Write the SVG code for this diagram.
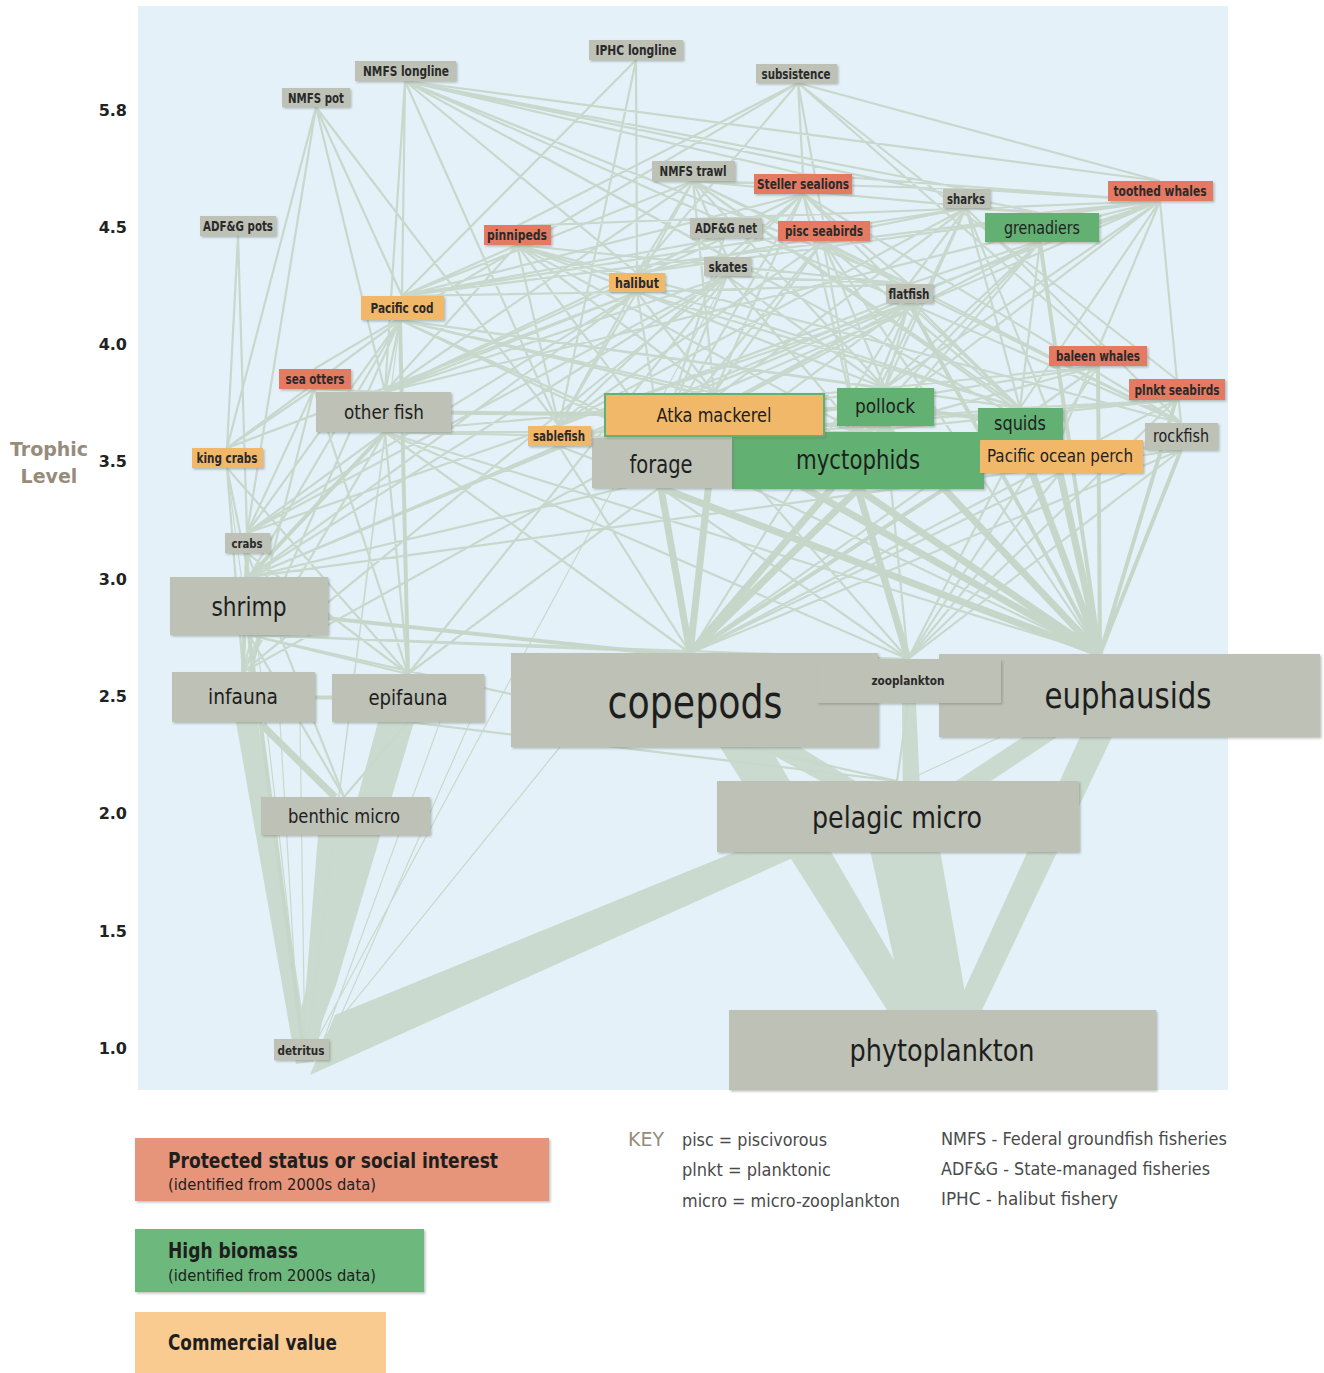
<svg xmlns="http://www.w3.org/2000/svg" width="1324" height="1373" viewBox="0 0 1324 1373">
<style>
.t{font-family:'DejaVu Sans Condensed','DejaVu Sans',sans-serif;font-stretch:condensed;fill:#1e1e1e;text-anchor:middle}
.s{font-weight:bold;fill:#2a2a2a}
.g{fill:#bdc1b6;filter:url(#sh)}
.r{fill:#e57a62;filter:url(#sh)}
.gr{fill:#62b173;filter:url(#sh)}
.o{fill:#f2b86a;filter:url(#sh)}
.e1{fill:none;stroke:#c9d9cd;stroke-width:1.2}
.e2{fill:none;stroke:#c8d8cc;stroke-width:2.2}
.e3{fill:none;stroke:#c6d7ca;stroke-width:4}
.e4{fill:none;stroke:#c6d7ca;stroke-width:7}
.w{fill:#cadacf}
.ax{font-family:'DejaVu Sans',sans-serif;font-weight:bold;font-size:16px;fill:#222;text-anchor:end}
.lg{font-family:'DejaVu Sans Condensed','DejaVu Sans',sans-serif;font-stretch:condensed;fill:#1e1e1e}
.key{font-family:'DejaVu Sans Condensed','DejaVu Sans',sans-serif;font-stretch:condensed;fill:#4a4a4a;font-size:18px}
</style>
<defs>
<filter id="sh" x="-5%" y="-10%" width="115%" height="130%"><feDropShadow dx="1.5" dy="1.5" stdDeviation="1" flood-color="#6d746c" flood-opacity="0.45"/></filter>
</defs>
<rect x="0" y="0" width="1324" height="1373" fill="#ffffff"/>
<rect x="138" y="6" width="1090" height="1084" fill="#e4f1f8"/>

<g id="axis">
<text class="ax" x="127" y="116">5.8</text>
<text class="ax" x="127" y="233">4.5</text>
<text class="ax" x="127" y="350">4.0</text>
<text class="ax" x="127" y="467">3.5</text>
<text class="ax" x="127" y="585">3.0</text>
<text class="ax" x="127" y="702">2.5</text>
<text class="ax" x="127" y="819">2.0</text>
<text class="ax" x="127" y="937">1.5</text>
<text class="ax" x="127" y="1054">1.0</text>
<text x="49" y="456" font-family="'DejaVu Sans',sans-serif" font-weight="bold" font-size="19" fill="#978c7c" text-anchor="middle">Trophic</text>
<text x="49" y="483" font-family="'DejaVu Sans',sans-serif" font-weight="bold" font-size="19" fill="#978c7c" text-anchor="middle">Level</text>
</g>

<g id="connectors">
<polygon class="w" points="310,1075 335,1015 745,848 815,848"/>
<polygon class="w" points="378,722 414,722 336,985 306,1064 298,1020"/>
<polygon class="w" points="318,835 360,835 314,1062 300,1062"/>
<polygon class="w" points="236,722 258,722 310,1062 296,1064"/>
<polygon class="w" points="720,747 770,747 923,1010 887,1010"/>
<polygon class="w" points="758,747 800,747 862,785 828,785"/>
<polygon class="w" points="870,850 940,850 968,1010 905,1010"/>
<polygon class="w" points="1080,737 1112,737 982,1010 955,1010"/>
<polygon class="w" points="902,703 916,703 930,1010 905,1010"/>
<polygon class="w" points="1023,737 1057,737 985,785 950,785"/>
<path class="e1" d="M227 468L305 1062 M247 553L305 1062 M385 432L305 1062 M560 747L305 1062 M1000 737L305 1062 M727 276L305 1062 M400 320L305 1062 M470 722L330 1040 M440 722L320 1050 M280 722L300 1060 M300 722L305 1062"/>
<path class="e2" d="M636 60L637 273 M636 60L559 426 M636 60L402 296
M405 81L402 296 M405 81L385 392 M405 81L559 426 M405 81L637 273 M405 81L727 257 M405 81L966 189 M405 81L1040 213 M405 81L1160 181 M405 81L803 174 M405 81L909 284 M405 81L1181 423 M405 81L1060 440
M316 107L402 296 M316 107L385 392 M316 107L227 448 M316 107L247 533 M316 107L559 426
M238 236L227 448 M238 236L247 533
M798 83L803 174 M798 83L517 226 M798 83L637 273 M798 83L1160 181 M798 83L1098 346 M798 83L314 369 M798 83L1176 379 M798 83L823 220
M693 181L885 388 M693 181L402 296 M693 181L714 393 M693 181L909 284 M693 181L1181 423 M693 181L1060 440 M693 181L385 392 M693 181L727 257 M693 181L1020 408 M693 181L559 426 M693 181L637 273 M693 181L1040 213 M693 181L966 189
M724 238L661 438 M724 238L385 392 M724 238L402 296
M803 194L885 388 M803 194L714 393 M803 194L402 296 M803 194L661 438 M803 194L1020 408 M803 194L385 392 M803 194L909 284 M803 194L1181 423 M803 194L637 273 M803 194L559 426 M803 194L858 432 M803 194L727 257
M1160 201L1020 408 M1160 201L559 426 M1160 201L1040 213 M1160 201L1181 423 M1160 201L1060 440 M1160 201L858 432 M1160 201L885 388 M1160 201L402 296 M1160 201L966 189 M1160 201L517 226 M1160 201L714 393 M1160 201L385 392 M1160 201L909 284 M1160 201L637 273 M1160 201L803 174
M966 208L1020 408 M966 208L885 388 M966 208L1040 213 M966 208L559 426 M966 208L858 432 M966 208L1181 423 M966 208L909 284 M966 208L637 273 M966 208L661 438 M966 208L402 296 M966 208L1060 440
M517 245L885 388 M517 245L661 438 M517 245L714 393 M517 245L1020 408 M517 245L402 296 M517 245L385 392 M517 245L909 284 M517 245L858 432 M517 245L559 426 M517 245L1181 423
M823 241L661 438 M823 241L858 432 M823 241L885 388 M823 241L714 393 M823 241L1020 408 M823 241L559 426 M823 241L1181 423 M823 241L1100 654
M1040 242L858 432 M1040 242L1020 408 M1040 242L249 577 M1040 242L690 653 M1040 242L885 388 M1040 242L661 438
M727 276L249 577 M727 276L247 533 M727 276L885 388 M727 276L385 392 M727 276L909 284 M727 276L408 674 M727 276L243 672 M727 276L661 438 M727 276L858 432
M637 292L885 388 M637 292L402 296 M637 292L909 284 M637 292L385 392 M637 292L227 448 M637 292L247 533 M637 292L249 577 M637 292L661 438 M637 292L714 393 M637 292L1020 408 M637 292L559 426
M909 303L243 672 M909 303L408 674 M909 303L249 577 M909 303L885 388 M909 303L661 438 M909 303L858 432 M909 303L690 653 M909 303L1020 408 M909 303L247 533
M400 320L885 388 M400 320L249 577 M400 320L247 533 M400 320L227 448 M400 320L385 392 M400 320L243 672 M400 320L661 438 M400 320L714 393 M400 320L1100 654 M400 320L1020 408 M400 320L858 432
M1098 366L690 653 M1098 366L661 438 M1098 366L858 432 M1098 366L885 388 M1098 366L908 659
M1176 400L690 653 M1176 400L858 432 M1176 400L1020 408 M1176 400L908 659 M1176 400L661 438
M314 389L408 674 M314 389L243 672 M314 389L247 533 M314 389L227 448 M314 389L385 392
M385 432L243 672 M385 432L408 674 M385 432L247 533 M385 432L1100 654 M385 432L690 653 M385 432L661 438 M385 432L858 432 M385 432L908 659 M385 432L885 388
M559 446L858 432 M559 446L1020 408 M559 446L885 388 M559 446L1100 654 M559 446L661 438 M559 446L249 577 M559 446L690 653
M714 437L858 432 M714 437L908 659 M714 437L661 438
M885 426L858 432 M885 426L661 438 M885 426L249 577 M885 426L908 659
M1020 440L858 432 M1020 440L908 659 M1020 440L661 438
M1181 450L690 653 M1181 450L858 432 M1181 450L249 577 M1181 450L908 659
M661 488L908 659
M1060 473L690 653 M1060 473L858 432 M1060 473L908 659
M227 468L243 672 M227 468L408 674 M227 468L249 577
M247 553L408 674 M247 553L344 797
M249 635L344 797 M249 635L690 653 M249 635L897 781 M249 635L908 659 M249 635L408 674
M408 722L344 797 M408 722L897 781
M908 703L897 781"/>
<path class="e3" d="M384 412L714 415 M885 406L1020 423 M714 415L885 406 M249 610L1100 700 M247 553L243 672 M260 635L250 672 M243 697L408 698 M1098 366L1100 654 M1176 400L1100 654 M1181 450L1100 654 M1040 242L1100 654 M400 320L408 674 M909 303L1100 654 M1020 440L690 653 M385 432L249 577 M249 635L305 1062"/>
<path class="e4" d="M714 437L690 653 M714 437L1100 654 M885 426L1100 654 M885 426L690 653 M1020 440L1100 654 M661 488L690 653 M661 488L1100 654 M858 489L690 653 M858 489L1100 654 M858 489L908 659 M1060 473L1100 654 M262 725L335 797"/>
</g>

<g id="n-iphc-longline"><rect class="g" x="589" y="40" width="94" height="20"/><text class="t s" x="636" y="55" font-size="14" textLength="81" lengthAdjust="spacingAndGlyphs">IPHC longline</text></g>
<g id="n-nmfs-longline"><rect class="g" x="355" y="61" width="101" height="20"/><text class="t s" x="406" y="76" font-size="14" textLength="86" lengthAdjust="spacingAndGlyphs">NMFS longline</text></g>
<g id="n-nmfs-pot"><rect class="g" x="282" y="88" width="68" height="19"/><text class="t s" x="316" y="102.5" font-size="14" textLength="56" lengthAdjust="spacingAndGlyphs">NMFS pot</text></g>
<g id="n-subsistence"><rect class="g" x="756" y="64" width="81" height="19"/><text class="t s" x="796" y="78.5" font-size="13.5" textLength="69" lengthAdjust="spacingAndGlyphs">subsistence</text></g>
<g id="n-nmfs-trawl"><rect class="g" x="652" y="161" width="83" height="20"/><text class="t s" x="693" y="176" font-size="14" textLength="67" lengthAdjust="spacingAndGlyphs">NMFS trawl</text></g>
<g id="n-steller-sealions"><rect class="r" x="754" y="174" width="98" height="20"/><text class="t s" x="803" y="189" font-size="14" textLength="92" lengthAdjust="spacingAndGlyphs">Steller sealions</text></g>
<g id="n-sharks"><rect class="g" x="943" y="189" width="47" height="19"/><text class="t s" x="966" y="203.5" font-size="14" textLength="38" lengthAdjust="spacingAndGlyphs">sharks</text></g>
<g id="n-toothed-whales"><rect class="r" x="1108" y="181" width="105" height="20"/><text class="t s" x="1160" y="196" font-size="14" textLength="93" lengthAdjust="spacingAndGlyphs">toothed whales</text></g>
<g id="n-adfg-pots"><rect class="g" x="200" y="216" width="76" height="20"/><text class="t s" x="238" y="231" font-size="14" textLength="70" lengthAdjust="spacingAndGlyphs">ADF&amp;G pots</text></g>
<g id="n-pinnipeds"><rect class="r" x="484" y="225" width="67" height="20"/><text class="t s" x="517" y="240" font-size="14" textLength="60" lengthAdjust="spacingAndGlyphs">pinnipeds</text></g>
<g id="n-adfg-net"><rect class="g" x="690" y="218" width="72" height="20"/><text class="t s" x="726" y="233" font-size="14" textLength="62" lengthAdjust="spacingAndGlyphs">ADF&amp;G net</text></g>
<g id="n-pisc-seabirds"><rect class="r" x="778" y="221" width="92" height="20"/><text class="t s" x="824" y="236" font-size="14" textLength="78" lengthAdjust="spacingAndGlyphs">pisc seabirds</text></g>
<g id="n-grenadiers"><rect class="gr" x="985" y="213" width="114" height="29"/><text class="t" x="1042" y="233.5" font-size="17" textLength="76" lengthAdjust="spacingAndGlyphs">grenadiers</text></g>
<g id="n-skates"><rect class="g" x="704" y="257" width="47" height="19"/><text class="t s" x="728" y="271.5" font-size="14" textLength="39" lengthAdjust="spacingAndGlyphs">skates</text></g>
<g id="n-halibut"><rect class="o" x="609" y="273" width="56" height="19"/><text class="t s" x="637" y="287.5" font-size="14" textLength="44" lengthAdjust="spacingAndGlyphs">halibut</text></g>
<g id="n-flatfish"><rect class="g" x="886" y="284" width="47" height="19"/><text class="t s" x="909" y="298.5" font-size="14" textLength="41" lengthAdjust="spacingAndGlyphs">flatfish</text></g>
<g id="n-pacific-cod"><rect class="o" x="361" y="296" width="83" height="24"/><text class="t s" x="402" y="313" font-size="14" textLength="63" lengthAdjust="spacingAndGlyphs">Pacific cod</text></g>
<g id="n-baleen-whales"><rect class="r" x="1049" y="346" width="98" height="20"/><text class="t s" x="1098" y="361" font-size="14" textLength="84" lengthAdjust="spacingAndGlyphs">baleen whales</text></g>
<g id="n-plnkt-seabirds"><rect class="r" x="1129" y="379" width="96" height="21"/><text class="t s" x="1177" y="394.5" font-size="14" textLength="85" lengthAdjust="spacingAndGlyphs">plnkt seabirds</text></g>
<g id="n-sea-otters"><rect class="r" x="279" y="369" width="72" height="20"/><text class="t s" x="315" y="384" font-size="14" textLength="59" lengthAdjust="spacingAndGlyphs">sea otters</text></g>
<g id="n-other-fish"><rect class="g" x="316" y="392" width="135" height="40"/><text class="t" x="384" y="419" font-size="20" textLength="80" lengthAdjust="spacingAndGlyphs">other fish</text></g>
<g id="n-myctophids"><rect class="gr" x="732" y="432" width="252" height="57"/><text class="t" x="858" y="469" font-size="26" textLength="124" lengthAdjust="spacingAndGlyphs">myctophids</text></g>
<g id="n-forage"><rect class="g" x="592" y="438" width="140" height="50"/><text class="t" x="661" y="473" font-size="24" textLength="63" lengthAdjust="spacingAndGlyphs">forage</text></g>
<g id="n-atka-mackerel"><rect class="o" x="605" y="394" width="219" height="42" stroke="#62b173" stroke-width="2"/><text class="t" x="714" y="422" font-size="19" textLength="115" lengthAdjust="spacingAndGlyphs">Atka mackerel</text></g>
<g id="n-sablefish"><rect class="o" x="528" y="426" width="63" height="20"/><text class="t s" x="559" y="441" font-size="13.5" textLength="52" lengthAdjust="spacingAndGlyphs">sablefish</text></g>
<g id="n-pollock"><rect class="gr" x="837" y="388" width="97" height="38"/><text class="t" x="885" y="413" font-size="20" textLength="60" lengthAdjust="spacingAndGlyphs">pollock</text></g>
<g id="n-squids"><rect class="gr" x="978" y="408" width="85" height="33"/><text class="t" x="1020" y="430" font-size="19" textLength="52" lengthAdjust="spacingAndGlyphs">squids</text></g>
<g id="n-pacific-ocean-perch"><rect class="o" x="980" y="440" width="163" height="33"/><text class="t" x="1060" y="462" font-size="17" textLength="146" lengthAdjust="spacingAndGlyphs">Pacific ocean perch</text></g>
<g id="n-rockfish"><rect class="g" x="1145" y="423" width="73" height="27"/><text class="t" x="1181" y="442" font-size="17" textLength="56" lengthAdjust="spacingAndGlyphs">rockfish</text></g>
<g id="n-king-crabs"><rect class="o" x="192" y="448" width="71" height="20"/><text class="t s" x="227" y="463" font-size="14" textLength="61" lengthAdjust="spacingAndGlyphs">king crabs</text></g>
<g id="n-crabs"><rect class="g" x="225" y="533" width="45" height="20"/><text class="t s" x="247" y="548" font-size="13" textLength="31" lengthAdjust="spacingAndGlyphs">crabs</text></g>
<g id="n-shrimp"><rect class="g" x="170" y="577" width="158" height="58"/><text class="t" x="249" y="616" font-size="26" textLength="75" lengthAdjust="spacingAndGlyphs">shrimp</text></g>
<g id="n-infauna"><rect class="g" x="172" y="672" width="143" height="50"/><text class="t" x="243" y="704" font-size="21" textLength="70" lengthAdjust="spacingAndGlyphs">infauna</text></g>
<g id="n-epifauna"><rect class="g" x="332" y="674" width="152" height="48"/><text class="t" x="408" y="705" font-size="21" textLength="79" lengthAdjust="spacingAndGlyphs">epifauna</text></g>
<g id="n-copepods"><rect class="g" x="511" y="653" width="367" height="94"/><text class="t" x="695" y="718" font-size="46" textLength="175" lengthAdjust="spacingAndGlyphs">copepods</text></g>
<g id="n-euphausids"><rect class="g" x="939" y="654" width="381" height="83"/><text class="t" x="1128" y="708" font-size="36" textLength="167" lengthAdjust="spacingAndGlyphs">euphausids</text></g>
<g id="n-zooplankton"><rect class="g" x="817" y="659" width="184" height="44"/><text class="t s" x="908" y="685" font-size="13" textLength="73" lengthAdjust="spacingAndGlyphs">zooplankton</text></g>
<g id="n-benthic-micro"><rect class="g" x="261" y="797" width="169" height="38"/><text class="t" x="344" y="823" font-size="19" textLength="112" lengthAdjust="spacingAndGlyphs">benthic micro</text></g>
<g id="n-pelagic-micro"><rect class="g" x="717" y="781" width="362" height="71"/><text class="t" x="897" y="828" font-size="31" textLength="170" lengthAdjust="spacingAndGlyphs">pelagic micro</text></g>
<g id="n-detritus"><rect class="g" x="274" y="1039" width="55" height="21"/><text class="t s" x="301" y="1055" font-size="13" textLength="47" lengthAdjust="spacingAndGlyphs">detritus</text></g>
<g id="n-phytoplankton"><rect class="g" x="729" y="1010" width="427" height="80"/><text class="t" x="942" y="1061" font-size="31" textLength="185" lengthAdjust="spacingAndGlyphs">phytoplankton</text></g>

<g id="legend">
<rect x="135" y="1138" width="414" height="63" fill="#e6947a" filter="url(#sh)"/>
<text class="lg" x="168" y="1168" font-size="21" font-weight="bold" textLength="330" lengthAdjust="spacingAndGlyphs">Protected status or social interest</text>
<text class="lg" x="168" y="1190" font-size="15" fill="#333" textLength="208" lengthAdjust="spacingAndGlyphs">(identified from 2000s data)</text>
<rect x="135" y="1229" width="289" height="63" fill="#6db87b" filter="url(#sh)"/>
<text class="lg" x="168" y="1258" font-size="21" font-weight="bold" textLength="130" lengthAdjust="spacingAndGlyphs">High biomass</text>
<text class="lg" x="168" y="1281" font-size="15" fill="#333" textLength="208" lengthAdjust="spacingAndGlyphs">(identified from 2000s data)</text>
<rect x="135" y="1312" width="251" height="61" fill="#f9cb90"/>
<text class="lg" x="168" y="1350" font-size="21" font-weight="bold" textLength="169" lengthAdjust="spacingAndGlyphs">Commercial value</text>
</g>
<g id="key">
<text x="628" y="1146" font-family="'DejaVu Sans Condensed','DejaVu Sans',sans-serif" font-stretch="condensed" font-size="20" fill="#978c7c" textLength="36" lengthAdjust="spacingAndGlyphs">KEY</text>
<text class="key" x="682" y="1146" textLength="145" lengthAdjust="spacingAndGlyphs">pisc = piscivorous</text>
<text class="key" x="682" y="1176" textLength="149" lengthAdjust="spacingAndGlyphs">plnkt = planktonic</text>
<text class="key" x="682" y="1207" textLength="218" lengthAdjust="spacingAndGlyphs">micro = micro-zooplankton</text>
<text class="key" x="941" y="1145" textLength="286" lengthAdjust="spacingAndGlyphs">NMFS - Federal groundfish fisheries</text>
<text class="key" x="941" y="1175" textLength="269" lengthAdjust="spacingAndGlyphs">ADF&amp;G - State-managed fisheries</text>
<text class="key" x="941" y="1205" textLength="177" lengthAdjust="spacingAndGlyphs">IPHC - halibut fishery</text>
</g>
</svg>
